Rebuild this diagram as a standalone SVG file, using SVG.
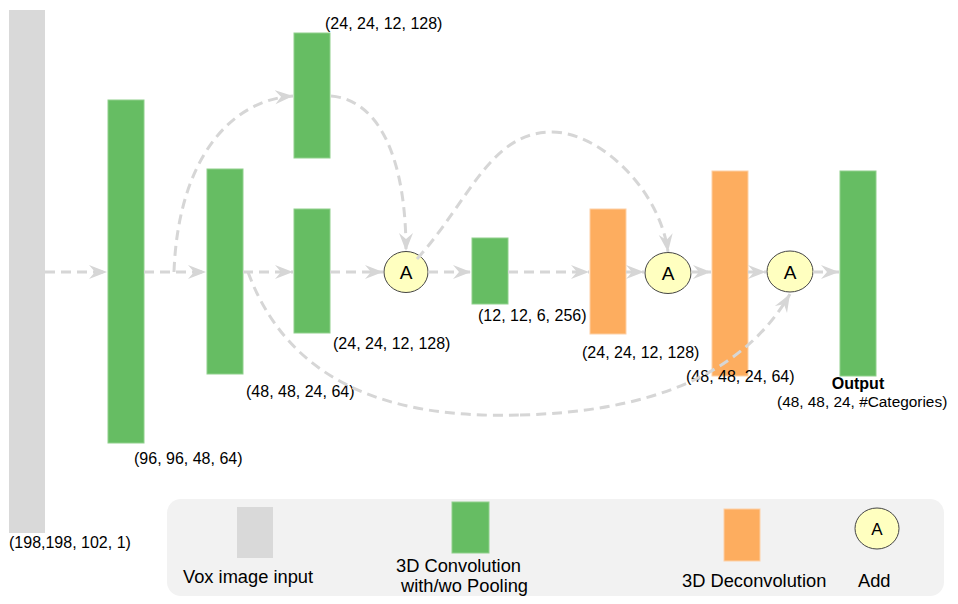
<svg xmlns="http://www.w3.org/2000/svg" width="958" height="604" viewBox="0 0 958 604">
<style>
.in{fill:#d9d9d9}
.cv{fill:#66bd63;stroke:#8fd08c;stroke-width:1}
.dc{fill:#fdad5f;stroke:#fdd0a6;stroke-width:1}
.add{fill:#ffffc0;stroke:#444;stroke-width:1}
.lbl{font-family:"Liberation Sans",Arial,sans-serif;font-size:16px;fill:#000}
.lg{font-family:"Liberation Sans",Arial,sans-serif;font-size:18.3px;fill:#000}
.at{font-family:"Liberation Sans",Arial,sans-serif;font-size:19px;fill:#000;text-anchor:middle}
.c{fill:none;stroke:#d6d6d6;stroke-width:3;stroke-dasharray:10 6;marker-end:url(#arr)}
.cn{fill:none;stroke:#d6d6d6;stroke-width:3;stroke-dasharray:10 6}
</style>
<defs>
<marker id="arr" markerUnits="userSpaceOnUse" markerWidth="22" markerHeight="18" refX="18" refY="8" orient="auto">
<path d="M0,1 L18,8 L0,15 L6,8 Z" fill="#d6d6d6"/>
</marker>
</defs>
<rect width="958" height="604" fill="#fff"/>

<g id="input"><rect class="in" x="9" y="10" width="36" height="523"/><text class="lbl" x="9" y="548">(198,198, 102, 1)</text></g>
<g id="conv1"><rect class="cv" x="108" y="100" width="36" height="343"/><text class="lbl" x="134" y="464">(96, 96, 48, 64)</text></g>
<g id="conv2"><rect class="cv" x="207" y="169" width="36" height="205"/><text class="lbl" x="246" y="397">(48, 48, 24, 64)</text></g>
<g id="conv3a"><rect class="cv" x="294" y="33" width="36" height="125"/><text class="lbl" x="325" y="29">(24, 24, 12, 128)</text></g>
<g id="conv3b"><rect class="cv" x="294" y="209" width="36" height="124"/><text class="lbl" x="333" y="349">(24, 24, 12, 128)</text></g>
<g id="add1"><ellipse class="add" cx="406" cy="272" rx="22" ry="20.5"/><text class="at" x="406" y="279">A</text></g>
<g id="conv4"><rect class="cv" x="472" y="238" width="36" height="66"/><text class="lbl" x="478" y="321">(12, 12, 6, 256)</text></g>
<g id="deconv1"><rect class="dc" x="590" y="209" width="36" height="125"/><text class="lbl" x="582" y="358">(24, 24, 12, 128)</text></g>
<g id="add2"><ellipse class="add" cx="668" cy="273" rx="23" ry="20.5"/><text class="at" x="668" y="280">A</text></g>
<g id="deconv2"><rect class="dc" x="712" y="171" width="36" height="205"/><text class="lbl" x="686" y="382">(48, 48, 24, 64)</text></g>
<g id="add3"><ellipse class="add" cx="790" cy="271.5" rx="23" ry="20.5"/><text class="at" x="790" y="278.5">A</text></g>
<g id="output"><rect class="cv" x="840" y="171" width="36" height="205"/><text class="lbl" x="858" y="389" text-anchor="middle" font-weight="bold">Output</text><text class="lbl" x="777" y="407" style="font-size:15.4px">(48, 48, 24, #Categories)</text></g>

<g id="connectors">
<path class="c" d="M45,272 L107,272"/>
<path class="c" d="M144,272 L206,272"/>
<path class="c" d="M174,272 C178,160 230,100 293,96"/>
<path class="c" d="M243,272 L293,272"/>
<path class="cn" d="M248,272 C295,400 420,418 520,415"/>
<path class="c" d="M520,415 C640,412 740,380 790,294"/>
<path class="c" d="M330,272 L383,272"/>
<path class="c" d="M331,96 C380,100 406,160 406,251"/>
<path class="c" d="M428,272 L471,272"/>
<path class="cn" d="M417,259 C470,200 490,132 552,132"/>
<path class="c" d="M552,132 C600,132 660,190 668,252"/>
<path class="c" d="M508,272 L589,272"/>
<path class="c" d="M626,272 L644,272"/>
<path class="c" d="M691,272 L711,272"/>
<path class="c" d="M813,272 L839,272"/>
<path class="c" d="M748,272 L766,272"/>
</g>

<g id="legend">
<rect x="167" y="499" width="777" height="97" rx="14" fill="#f2f2f2"/>
<rect class="in" x="237" y="507" width="36" height="51"/>
<text class="lg" x="183" y="583">Vox image input</text>
<rect class="cv" x="452" y="502" width="37" height="51"/>
<text class="lg" x="396" y="572">3D Convolution</text>
<text class="lg" x="401" y="592">with/wo Pooling</text>
<rect class="dc" x="724" y="509" width="36" height="52"/>
<text class="lg" x="682" y="587">3D Deconvolution</text>
<ellipse class="add" cx="877" cy="528.5" rx="22" ry="20.5"/>
<text class="at" x="877" y="535" style="font-size:17px">A</text>
<text class="lg" x="858" y="587">Add</text>
</g>
</svg>
